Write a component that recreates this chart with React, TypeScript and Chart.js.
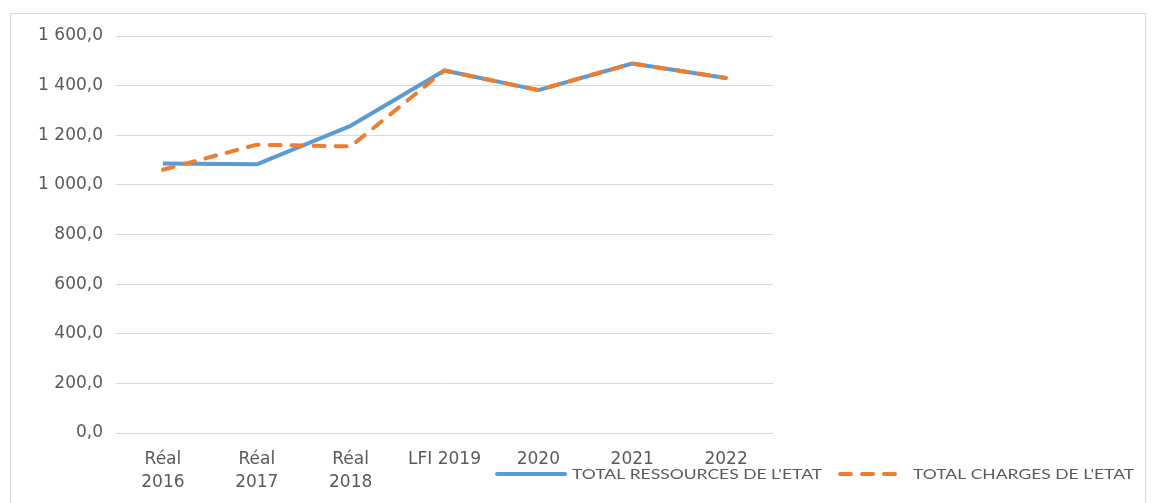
import React, { useEffect, useRef } from "react";
import { Chart, registerables } from "chart.js";

Chart.register(...registerables);

const categories: (string | string[])[] = [
  ["Réal", "2016"],
  ["Réal", "2017"],
  ["Réal", "2018"],
  "LFI 2019",
  "2020",
  "2021",
  "2022",
];
const ressources = [1086, 1083, 1238, 1461, 1382, 1489, 1431];
const charges = [1061, 1162, 1155, 1461, 1382, 1489, 1431];
const seriesNames = ["TOTAL RESSOURCES DE L'ETAT", "TOTAL CHARGES DE L'ETAT"];
const yMin = 0;
const yMax = 1600;
const yStep = 200;

const AXIS_FONT = "'DejaVu Sans', sans-serif";
const LEGEND_FONT = "Lato, 'Open Sans', sans-serif";
const TEXT = "#595959";
const BLUE = "#5B9BD5";
const ORANGE = "#ED7D31";

function fmt(v: number): string {
  const s = v.toFixed(1);
  const [i, d] = s.split(".");
  const withSpace = i.replace(/\B(?=(\d{3})+(?!\d))/g, " ");
  return withSpace + "," + d;
}

const framePlugin = {
  id: "frame",
  beforeDraw(chart: any) {
    const ctx = chart.ctx;
    ctx.save();
    ctx.fillStyle = "#ffffff";
    ctx.fillRect(0, 0, chart.width, chart.height);
    ctx.strokeStyle = "#d9d9d9";
    ctx.lineWidth = 1;
    ctx.strokeRect(10.5, 13.5, 1135, 500);
    ctx.restore();
  },
};

const legendPlugin = {
  id: "customLegend",
  afterDraw(chart: any) {
    const ctx = chart.ctx;
    const ds = chart.data.datasets;
    const items = [
      { x: 495, w: 72, tx: 572, d: ds[0] },
      { x: 838, w: 66, tx: 913, d: ds[1] },
    ];
    const y = 474;
    const stretch = 1.25;
    ctx.save();
    items.forEach((it) => {
      ctx.beginPath();
      ctx.strokeStyle = it.d.borderColor;
      ctx.lineWidth = 4;
      ctx.lineCap = "round";
      ctx.setLineDash(it.d.borderDash || []);
      ctx.moveTo(it.x + 2, y);
      ctx.lineTo(it.x + it.w - 2, y);
      ctx.stroke();
      ctx.setLineDash([]);
      ctx.save();
      ctx.translate(it.tx, y);
      ctx.scale(stretch, 1);
      ctx.fillStyle = TEXT;
      ctx.font = `14px ${LEGEND_FONT}`;
      ctx.textBaseline = "middle";
      ctx.textAlign = "left";
      ctx.fillText(it.d.label, 0, 0);
      ctx.restore();
    });
    ctx.restore();
  },
};

export default function App() {
  const ref = useRef<HTMLCanvasElement | null>(null);

  useEffect(() => {
    if (!ref.current) return;
    const chart = new Chart(ref.current, {
      type: "line",
      data: {
        labels: categories,
        datasets: [
          {
            label: seriesNames[0],
            data: ressources,
            borderColor: BLUE,
            backgroundColor: BLUE,
            borderWidth: 4,
            pointRadius: 0,
            tension: 0,
            order: 1,
            borderJoinStyle: "round",
          },
          {
            label: seriesNames[1],
            data: charges,
            borderColor: ORANGE,
            backgroundColor: ORANGE,
            borderWidth: 4,
            borderDash: [11, 11],
            borderCapStyle: "round",
            pointRadius: 0,
            tension: 0,
            order: 0,
          },
        ],
      },
      options: {
        responsive: false,
        animation: false,
        layout: { padding: { left: 0, top: 36, right: 385, bottom: 0 } },
        plugins: {
          legend: { display: false },
          tooltip: { enabled: false },
        },
        scales: {
          x: {
            type: "category",
            offset: true,
            grid: { display: false, drawTicks: false },
            border: { display: false },
            ticks: {
              color: TEXT,
              font: { family: AXIS_FONT, size: 17, lineHeight: 1.3 },
              padding: 16,
              maxRotation: 0,
              autoSkip: false,
            },
            afterFit(scale: any) {
              scale.height = 70;
            },
          },
          y: {
            min: yMin,
            max: yMax,
            grid: { color: "#d9d9d9", lineWidth: 1, drawTicks: false },
            border: { display: false },
            ticks: {
              stepSize: yStep,
              color: TEXT,
              font: { family: AXIS_FONT, size: 17 },
              padding: 13,
              callback: (v: any) => fmt(Number(v)),
            },
            afterFit(scale: any) {
              scale.width = 116;
            },
          },
        },
      },
      plugins: [framePlugin, legendPlugin],
    } as any);
    return () => chart.destroy();
  }, []);

  return (
    <div style={{ position: "fixed", left: 0, top: 0, width: 1158, height: 503 }}>
      <canvas ref={ref} width={1158} height={503} />
    </div>
  );
}
